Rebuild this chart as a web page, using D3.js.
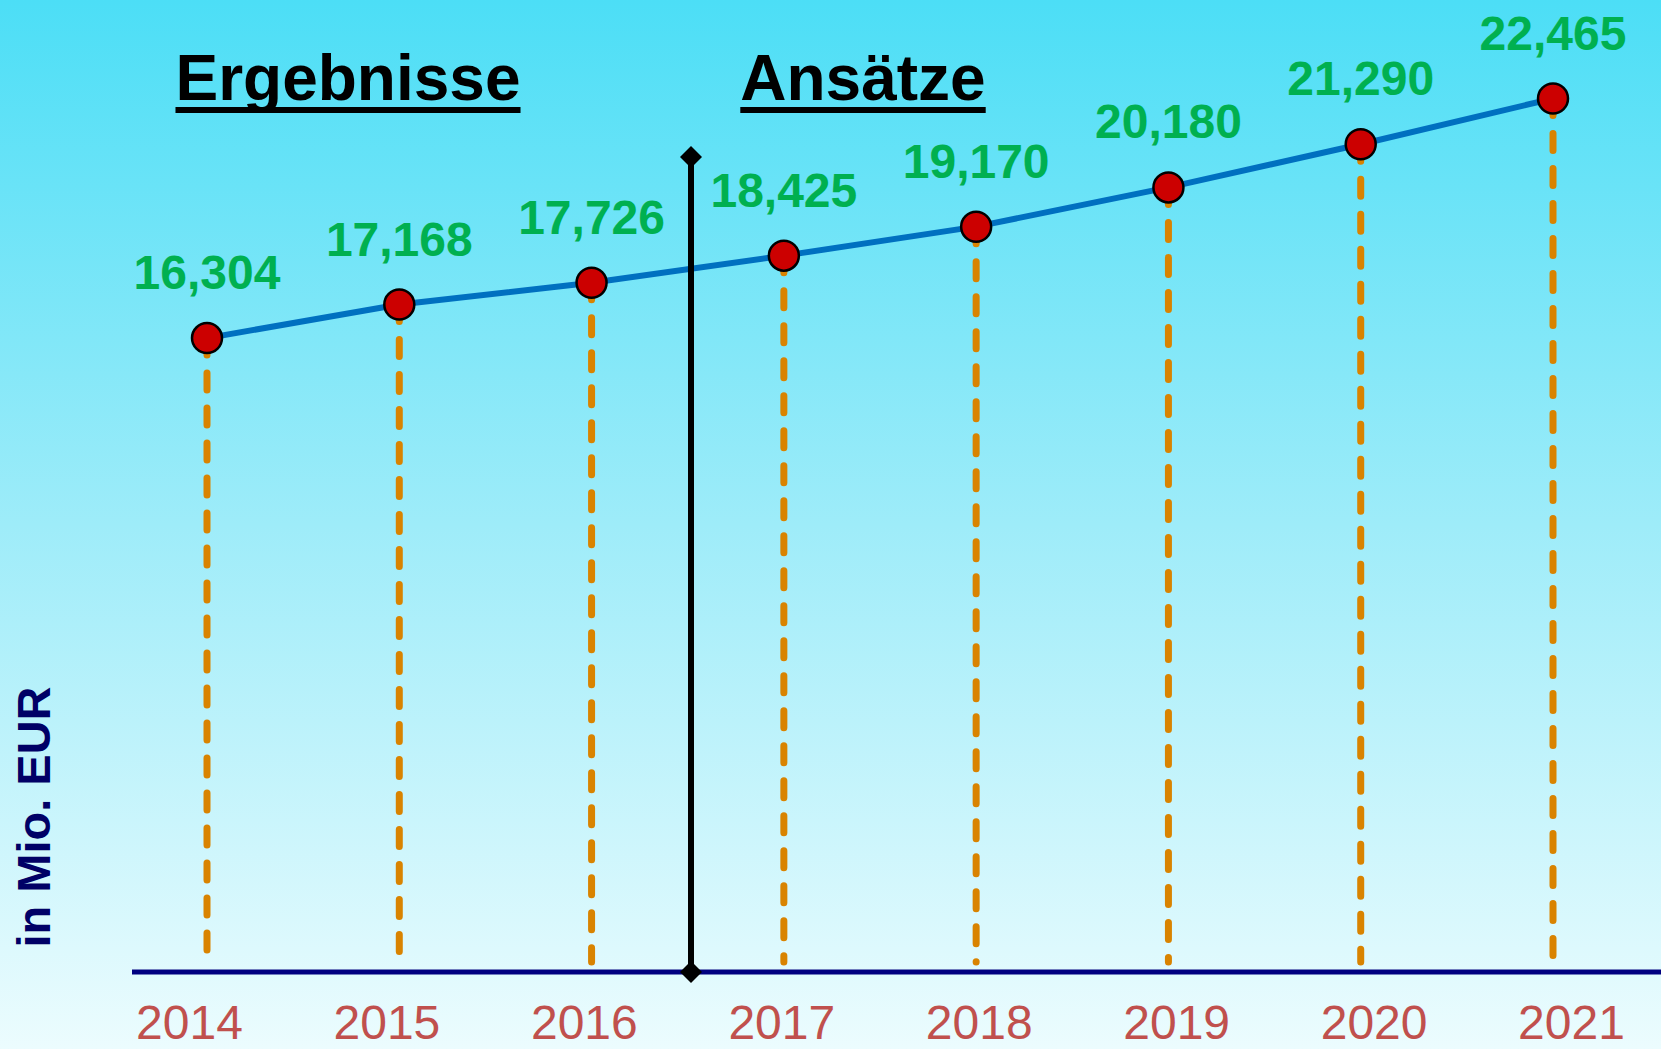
<!DOCTYPE html>
<html>
<head>
<meta charset="utf-8">
<script src="https://cdn.jsdelivr.net/npm/d3@7"></script>
<style>
  html, body { margin: 0; padding: 0; background: #fff; }
  svg { display: block; }
</style>
</head>
<body>
<svg id="chart" width="1661" height="1049"></svg>
<script>
// ---- data ----
const years = ["2014", "2015", "2016", "2017", "2018", "2019", "2020", "2021"];
const values = [16.304, 17.168, 17.726, 18.425, 19.170, 20.180, 21.290, 22.465];
const sectionTitles = ["Ergebnisse", "Ansätze"];
const yAxisTitle = "in Mio. EUR";

// ---- setup ----
const W = 1661, H = 1049;
const svg = d3.select("#chart");
const defs = svg.append("defs");
const grad = defs.append("linearGradient").attr("id", "bg").attr("x1", 0).attr("y1", 0).attr("x2", 0).attr("y2", 1);
grad.append("stop").attr("offset", "0%").attr("stop-color", "#4cdef6");
grad.append("stop").attr("offset", "50%").attr("stop-color", "#9eecf9");
grad.append("stop").attr("offset", "100%").attr("stop-color", "#ecfcfe");
svg.append("rect").attr("width", W).attr("height", H).attr("fill", "url(#bg)");

const baseY = 972;
const x = d3.scalePoint().domain(years).range([207, 1553]).padding(0);
const xLabel = d3.scalePoint().domain(years).range([189, 1571]).padding(0);
const y = d3.scaleLinear().domain([0, 25]).range([baseY, 0]);
const fmt = d3.formatLocale({ decimal: ",", thousands: ".", grouping: [3], currency: ["", "€"] }).format(".3f");

const data = years.map((yr, i) => ({ year: yr, value: values[i] }));
const font = "'Liberation Sans', Arial, sans-serif";

// drop lines
svg.append("g").selectAll("line").data(data).join("line")
  .attr("x1", d => x(d.year)).attr("x2", d => x(d.year))
  .attr("y1", d => y(d.value)).attr("y2", baseY - 10)
  .attr("stroke", "#d98300").attr("stroke-width", 7)
  .attr("stroke-dasharray", "17 18").attr("stroke-linecap", "round");

// baseline axis
svg.append("line").attr("x1", 132).attr("x2", W).attr("y1", baseY).attr("y2", baseY)
  .attr("stroke", "#000080").attr("stroke-width", 5);

// year labels via axis
const xAxis = d3.axisBottom(xLabel).tickSize(0).tickPadding(0);
const gx = svg.append("g").attr("transform", `translate(0,${1039})`).call(xAxis);
gx.select(".domain").remove();
gx.selectAll("text")
  .attr("dy", 0).attr("y", 0)
  .attr("font-family", font)
  .attr("font-size", 48).attr("fill", "#c0504d");

// value line
svg.append("path").datum(data)
  .attr("d", d3.line().x(d => x(d.year)).y(d => y(d.value)))
  .attr("fill", "none").attr("stroke", "#0070c0").attr("stroke-width", 6);

// divider
const divX = 691, divTop = 157;
svg.append("line").attr("x1", divX).attr("x2", divX).attr("y1", divTop).attr("y2", baseY)
  .attr("stroke", "#000").attr("stroke-width", 6);
const diamond = "M0,-11 L11,0 L0,11 L-11,0 Z";
svg.append("path").attr("d", diamond).attr("transform", `translate(${divX},${divTop})`).attr("fill", "#000");
svg.append("path").attr("d", diamond).attr("transform", `translate(${divX},${baseY})`).attr("fill", "#000");

// points
svg.append("g").selectAll("circle").data(data).join("circle")
  .attr("cx", d => x(d.year)).attr("cy", d => y(d.value)).attr("r", 15)
  .attr("fill", "#cc0000").attr("stroke", "#000").attr("stroke-width", 2.5);

// value labels
svg.append("g").selectAll("text").data(data).join("text")
  .attr("x", d => x(d.year)).attr("y", d => y(d.value) - 49)
  .attr("text-anchor", "middle")
  .attr("font-family", font)
  .attr("font-weight", "bold").attr("font-size", 48).attr("fill", "#00b050")
  .text(d => fmt(d.value));

// section titles
const t1 = svg.append("text").attr("x", 348).attr("y", 100).attr("text-anchor", "middle")
  .attr("font-family", font).attr("font-weight", "bold").attr("font-size", 64).attr("fill", "#000")
  .text(sectionTitles[0]);
const t2 = svg.append("text").attr("x", 863).attr("y", 100).attr("text-anchor", "middle")
  .attr("font-family", font).attr("font-weight", "bold").attr("font-size", 64).attr("fill", "#000")
  .text(sectionTitles[1]);
[t1, t2].forEach(t => {
  const b = t.node().getBBox();
  svg.append("rect").attr("x", b.x).attr("y", 107).attr("width", b.width).attr("height", 6).attr("fill", "#000");
});

// y axis title
svg.append("text").attr("transform", `translate(50,817) rotate(-90)`)
  .attr("text-anchor", "middle")
  .attr("font-family", font).attr("font-weight", "bold").attr("font-size", 47).attr("fill", "#000066")
  .text(yAxisTitle);
</script>
</body>
</html>
